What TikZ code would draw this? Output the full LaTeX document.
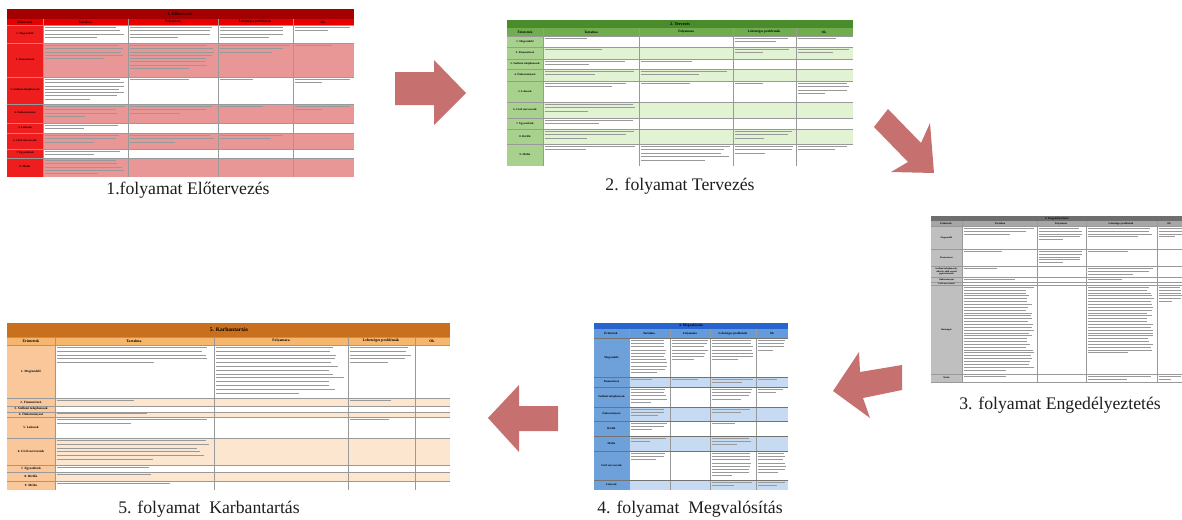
\documentclass[tikz,border=0pt]{standalone}
\usepackage{fontspec}
\setmainfont{Liberation Serif}
\definecolor{arrowc}{RGB}{199,112,112}
\definecolor{capc}{RGB}{30,30,30}
% table 1 (red)
\definecolor{rT}{RGB}{165,0,0}
\definecolor{rH}{RGB}{230,0,0}
\definecolor{rC}{RGB}{238,30,30}
\definecolor{rP}{RGB}{232,150,150}
% table 2 (green)
\definecolor{gT}{RGB}{74,139,44}
\definecolor{gH}{RGB}{112,173,78}
\definecolor{gC}{RGB}{169,209,142}
\definecolor{gP}{RGB}{226,243,212}
% table 3 (grey)
\definecolor{yT}{RGB}{110,110,110}
\definecolor{yH}{RGB}{166,166,166}
\definecolor{yC}{RGB}{191,191,191}
% table 4 (blue)
\definecolor{bT}{RGB}{40,100,205}
\definecolor{bH}{RGB}{100,155,220}
\definecolor{bC}{RGB}{110,160,218}
\definecolor{bP}{RGB}{198,219,242}
% table 5 (orange)
\definecolor{oT}{RGB}{200,112,30}
\definecolor{oH}{RGB}{246,182,110}
\definecolor{oC}{RGB}{249,199,154}
\definecolor{oP}{RGB}{253,230,208}
\tikzset{
  captxt/.style={font=\fontsize{17.7}{20}\selectfont, text=capc, inner sep=0},
  lab/.style={font=\bfseries\fontsize{2.8}{3.1}\selectfont, inner sep=0, align=center},
  hdr/.style={font=\bfseries\fontsize{3.4}{3.8}\selectfont, inner sep=0},
  ttl/.style={font=\bfseries\fontsize{4.2}{4.6}\selectfont, inner sep=0},
  txt/.style={line width=0.75pt, black!40},
  gridln/.style={line width=0.4pt, black!40},
  blockarrow/.style={fill=arrowc}
}
\pgfmathsetseed{7}
% text-line imitation: x1, x2, ytop, number of lines, spacing
\newcommand\tl[5]{%
  \foreach \i in {1,...,#4}{%
    \pgfmathsetmacro\yy{#3+2.3+(\i-1)*#5}%
    \pgfmathsetmacro\ww{ifthenelse(\i==#4,0.45+0.3*rnd,0.86+0.12*rnd)}%
    \draw[txt] ({#1+1.5},\yy) -- ({#1+1.5+\ww*(#2-#1-3)},\yy);
  }%
}
\begin{document}
\begin{tikzpicture}[x=1pt,y=-1pt]
\useasboundingbox (0,0) rectangle (1182,519);
\fill[white] (0,0) rectangle (1182,519);

%================ TABLE 1 ================
\fill[rT] (7,9) rectangle (354,19);
\fill[rH] (7,19) rectangle (354,25);
\foreach \a/\b/\c in {25/43/white,43/77/rP,77/104/white,104/123/rP,123/133/white,133/149/rP,149/158/white,158/177/rP}
  \fill[\c] (43,\a) rectangle (354,\b);
\fill[rC] (7,25) rectangle (43,177);
\foreach \x in {43,128,218,293} \draw[gridln] (\x,19) -- (\x,177);
\foreach \y in {25,43,77,104,123,133,149,158} \draw[gridln] (7,\y) -- (354,\y);
\node[ttl] (t1t) at (180,14) {1. Előtervezés};
\foreach \x/\t [count=\i] in {25/Érintettek,85/Tartalma,173/Folyamata,255/Lehetséges problémák,323/Ok}
  \node[hdr] (t1h\i) at (\x,22) {\t};
\foreach \y/\t [count=\i] in {34/1. Megrendelő,60/2. Finanszírozó,90/{3. Szellemi tulajdonosok},113/4. Önkormányzat,128/5. Lakosok,141/{6. Civil szervezetek},153/7. Egyesületek,167/8. Média}
  \node[lab] (t1r\i) at (25,\y) {\t};
\tl{43}{128}{25}{4}{3.3}\tl{128}{218}{25}{4}{3.3}\tl{218}{293}{25}{4}{3.3}\tl{293}{354}{25}{2}{3.3}
\tl{43}{128}{43}{5}{3.3}\tl{128}{218}{43}{8}{3.3}\tl{218}{293}{43}{3}{3.3}\tl{293}{354}{43}{1}{3.3}
\tl{43}{128}{77}{7}{3.3}\tl{128}{218}{77}{1}{3.3}\tl{218}{293}{77}{1}{3.3}\tl{293}{354}{77}{2}{3.3}
\tl{43}{128}{104}{4}{3.3}\tl{128}{218}{104}{3}{3.3}\tl{218}{293}{104}{1}{3.3}\tl{293}{354}{104}{2}{3.3}
\tl{43}{128}{123}{2}{3.3}
\tl{43}{128}{133}{3}{3.3}\tl{128}{218}{133}{3}{3.3}\tl{218}{293}{133}{2}{3.3}
\tl{43}{128}{149}{2}{3.3}
\tl{43}{128}{158}{5}{3.3}
\node[captxt] (cap1) at (188,190) {1.folyamat Előtervezés};

%================ TABLE 2 ================
\fill[gT] (507,20) rectangle (853,28);
\fill[gH] (507,28) rectangle (853,36);
\foreach \a/\b/\c in {36/47/white,47/59/gP,59/69/white,69/81/gP,81/102/white,102/118/gP,118/129/white,129/144/gP,144/166/white}
  \fill[\c] (543,\a) rectangle (853,\b);
\fill[gC] (507,36) rectangle (543,166);
\foreach \x in {543,639,733,796} \draw[gridln] (\x,28) -- (\x,166);
\foreach \y in {36,47,59,69,81,102,118,129,144} \draw[gridln] (507,\y) -- (853,\y);
\node[ttl] (t2t) at (680,24) {2. Tervezés};
\foreach \x/\t [count=\i] in {525/Érintettek,591/Tartalma,686/Folyamata,764/Lehetséges problémák,824/Ok}
  \node[hdr] (t2h\i) at (\x,32) {\t};
\foreach \y/\t [count=\i] in {41.5/1. Megrendelő,53/2. Finanszírozó,64/{3. Szellemi tulajdonosok},75/4. Önkormányzat,91.5/5. Lakosok,110/{6. Civil szervezetek},123.5/7. Egyesületek,136.5/8. Bérlők,155/9. Média}
  \node[lab] (t2r\i) at (525,\y) {\t};
\tl{543}{639}{36}{1}{3.4}\tl{733}{796}{36}{2}{3.4}\tl{796}{853}{36}{1}{3.4}
\tl{543}{639}{47}{1}{3.4}\tl{733}{796}{47}{2}{3.4}\tl{796}{853}{47}{2}{3.4}
\tl{543}{639}{59}{2}{3.4}\tl{639}{733}{59}{1}{3.4}
\tl{543}{639}{69}{2}{3.4}\tl{639}{733}{69}{2}{3.4}
\tl{543}{639}{81}{2}{3.4}\tl{639}{733}{81}{1}{3.4}\tl{733}{796}{81}{1}{3.4}\tl{796}{853}{81}{4}{3.4}
\tl{543}{639}{102}{3}{3.4}
\tl{543}{639}{118}{2}{3.4}
\tl{543}{639}{129}{3}{3.4}\tl{733}{796}{129}{3}{3.4}
\tl{543}{639}{144}{2}{3.4}\tl{639}{733}{144}{5}{3.4}\tl{733}{796}{144}{3}{3.4}\tl{796}{853}{144}{2}{3.4}
\node[captxt] (cap2) at (680,186) {2. folyamat Tervezés};

%================ TABLE 3 ================
\fill[yT] (931,216) rectangle (1182,221);
\fill[yH] (931,221) rectangle (1182,226);
\fill[white] (962,226) rectangle (1182,382);
\fill[yC] (931,226) rectangle (962,382);
\foreach \x in {962,1037,1086,1157} \draw[gridln] (\x,221) -- (\x,382);
\foreach \y in {226,249,266,277,282,285,374,382} \draw[gridln] (931,\y) -- (1182,\y);
\node[ttl, font=\bfseries\fontsize{3}{3.4}\selectfont] (t3t) at (1057,218.5) {3. Engedélyeztetés};
\foreach \x/\t [count=\i] in {946/Érintettek,1000/Tartalma,1061/Folyamata,1121/Lehetséges problémák,1169/Ok}
  \node[hdr, font=\bfseries\fontsize{2.6}{3}\selectfont] (t3h\i) at (\x,223.5) {\t};
\foreach \y/\t [count=\i] in {237.5/Megrendelő,257.5/Finanszírozó,271.5/{Szellemi tulajdonosok,\\ alkotók, akik szerzői\\ jogai érintettek},279.5/Önkormányzat,283.5/Civil szervezetek,329.5/Hatóságok,378/Média}
  \node[lab, font=\bfseries\fontsize{2.3}{2.6}\selectfont] (t3r\i) at (946.5,\y) {\t};
\tl{962}{1037}{226}{3}{2.85}\tl{1037}{1086}{226}{5}{2.85}\tl{1086}{1157}{226}{4}{2.85}\tl{1157}{1185}{226}{4}{2.85}
\tl{962}{1037}{249}{1}{2.85}\tl{1037}{1086}{249}{5}{2.85}\tl{1086}{1157}{249}{1}{2.85}
\tl{962}{1037}{266}{1}{2.85}\tl{1086}{1157}{266}{3}{2.85}
\tl{962}{1037}{277}{1}{2.85}\tl{1086}{1157}{277}{1}{2.85}
\tl{962}{1037}{285}{30}{2.85}\tl{1086}{1157}{285}{24}{2.85}\tl{1157}{1185}{285}{6}{2.85}
\tl{962}{1037}{374}{1}{2.8}\tl{1086}{1157}{374}{2}{2.8}\tl{1157}{1185}{374}{2}{2.8}
\node[captxt] (cap3) at (1060,405) {3. folyamat Engedélyeztetés};

%================ TABLE 4 ================
\fill[bT] (594,323) rectangle (788,329);
\fill[bH] (594,329) rectangle (788,338);
\foreach \a/\b/\c in {338/377/white,377/387/bP,387/407/white,407/421/bP,421/436/white,436/451/bP,451/480/white,480/490/bP}
  \fill[\c] (629,\a) rectangle (788,\b);
\fill[bC] (594,338) rectangle (629,490);
\foreach \x in {629,670,710,756} \draw[gridln] (\x,329) -- (\x,490);
\foreach \y in {338,377,387,407,421,436,451,480} \draw[gridln, black!55] (594,\y) -- (788,\y);
\node[ttl, font=\bfseries\fontsize{3.6}{4}\selectfont] (t4t) at (691,326) {4. Megvalósítás};
\foreach \x/\t [count=\i] in {611/Érintettek,649/Tartalma,690/Folyamata,733/Lehetséges problémák,772/Ok}
  \node[hdr, font=\bfseries\fontsize{3}{3.4}\selectfont] (t4h\i) at (\x,333.5) {\t};
\foreach \y/\t [count=\i] in {357.5/Megrendelő,382/Finanszírozó,397/{Szellemi tulajdonosok},414/Önkormányzat,428.5/Bérlők,443.5/Média,465.5/{Civil szervezetek},485/Lakosok}
  \node[lab] (t4r\i) at (611.5,\y) {\t};
\tl{629}{670}{338}{11}{3.2}\tl{670}{710}{338}{7}{3.2}\tl{710}{756}{338}{7}{3.2}\tl{756}{788}{338}{4}{3.2}
\tl{629}{670}{377}{1}{3.2}\tl{670}{710}{377}{1}{3.2}\tl{710}{756}{377}{2}{3.2}\tl{756}{788}{377}{1}{3.2}
\tl{629}{670}{387}{5}{3.2}\tl{710}{756}{387}{4}{3.2}\tl{756}{788}{387}{2}{3.2}
\tl{629}{670}{407}{3}{3.2}\tl{710}{756}{407}{2}{3.2}
\tl{629}{670}{421}{3}{3.2}\tl{710}{756}{421}{1}{3.2}
\tl{629}{670}{436}{2}{3.2}\tl{710}{756}{436}{3}{3.2}
\tl{629}{670}{451}{3}{3.2}\tl{710}{756}{451}{8}{3.2}\tl{756}{788}{451}{7}{3.2}
\tl{710}{756}{480}{2}{3.2}\tl{756}{788}{480}{2}{3.2}
\node[captxt] (cap4) at (690,509) {4. folyamat\ \ Megvalósítás};

%================ TABLE 5 ================
\fill[oT] (7,323) rectangle (450,337);
\fill[oH] (7,337) rectangle (450,345);
\foreach \a/\b/\c in {345/398/white,398/406/oP,406/412/white,412/417/oP,417/438/white,438/465/oP,465/472/white,472/481/oP,481/490/white}
  \fill[\c] (55,\a) rectangle (450,\b);
\fill[oC] (7,345) rectangle (55,490);
\foreach \x in {55,214,348,415} \draw[gridln] (\x,337) -- (\x,490);
\foreach \y in {337,345,398,406,412,417,438,465,472,481} \draw[gridln] (7,\y) -- (450,\y);
\node[ttl, font=\bfseries\fontsize{5.5}{6}\selectfont] (t5t) at (229,330) {5. Karbantartás};
\foreach \x/\t [count=\i] in {31/Érintettek,134/Tartalma,281/Folyamata,381/Lehetséges problémák,432/Ok}
  \node[hdr, font=\bfseries\fontsize{3.8}{4.2}\selectfont] (t5h\i) at (\x,341) {\t};
\foreach \y/\t [count=\i] in {371.5/1. Megrendelő,402/2. Finanszírozó,409/{3. Szellemi tulajdonosok},414.5/4. Önkormányzat,427.5/5. Lakosok,451.5/{6. Civil szervezetek},468.5/7. Egyesületek,476.5/8. Bérlők,485.5/9. Média}
  \node[lab, font=\bfseries\fontsize{3.2}{3.6}\selectfont] (t5r\i) at (31,\y) {\t};
\tl{55}{214}{345}{5}{3.8}\tl{214}{348}{345}{13}{3.8}\tl{348}{415}{345}{5}{3.8}
\tl{55}{214}{398}{1}{3.8}\tl{348}{415}{398}{1}{3.8}
\tl{55}{214}{411.5}{1}{3.8}
\tl{55}{214}{417}{2}{3.8}\tl{348}{415}{417}{1}{3.8}
\tl{55}{214}{438}{6}{3.8}
\tl{55}{214}{465}{1}{3.8}\tl{55}{214}{472.5}{1}{3.8}\tl{55}{214}{481.5}{1}{3.8}
\node[captxt] (cap5) at (209,509) {5. folyamat\ \ Karbantartás};

%================ BLOCK ARROWS ================
\fill[blockarrow] (395,72) -- (434,72) -- (434,60) -- (466,93) -- (434,125) -- (434,105) -- (395,105) -- cycle;
\fill[blockarrow] (874,127) -- (888,109) -- (921,143) -- (930,123) -- (934,173) -- (891,172) -- (908,162) -- cycle;
\fill[blockarrow] (902,365) -- (860,372) -- (859,352) -- (833,391) -- (870,418) -- (863,398) -- (902,390) -- cycle;
\fill[blockarrow] (558,406) -- (519,406) -- (519,385) -- (488,418) -- (519,452) -- (519,431) -- (558,431) -- cycle;
\end{tikzpicture}
\end{document}
